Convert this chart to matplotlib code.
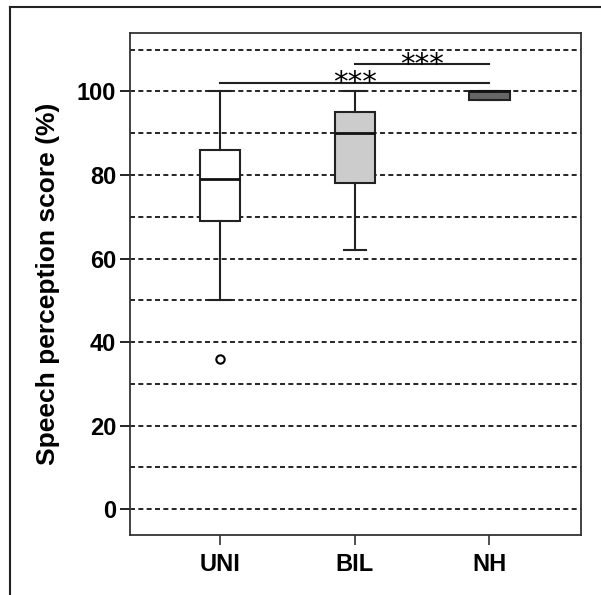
import matplotlib
matplotlib.use('Agg')
import matplotlib.pyplot as plt
from matplotlib.lines import Line2D

plt.rcParams['font.family'] = ['Liberation Sans', 'DejaVu Sans']

groups = ['UNI', 'BIL', 'NH']
# box summary stats
q1 = [69, 78, 98]
med = [79, 90, 100]
q3 = [86, 95, 100]
whislo = [50, 62, 98]
whishi = [100, 100, 100]
fliers = [[36], [], []]
box_colors = ['white', '#cccccc', '#666666']

# significance brackets: (from group, to group, height)
sig_pairs = [(1, 3, 102), (2, 3, 106.5)]
sig_labels = ['***', '***']

stats = []
for i in range(len(groups)):
    stats.append({'label': groups[i], 'q1': q1[i], 'med': med[i], 'q3': q3[i],
                  'whislo': whislo[i], 'whishi': whishi[i], 'fliers': fliers[i]})

fig = plt.figure(figsize=(6.01, 5.95), dpi=100)
ax = fig.add_axes([130 / 601, 60 / 595, 451 / 601, 502 / 595])

for y in range(0, 120, 10):
    ax.axhline(y, color='black', lw=1.2, ls=(0, (3, 2)), zorder=0)

bp = ax.bxp(stats, positions=[1, 2, 3], widths=0.3, patch_artist=True,
            showfliers=True,
            boxprops=dict(edgecolor='#222222', linewidth=1.5),
            medianprops=dict(color='#111111', linewidth=2),
            whiskerprops=dict(color='#222222', linewidth=1.5),
            capprops=dict(color='#222222', linewidth=1.5),
            capwidths=0.16,
            flierprops=dict(marker='o', markerfacecolor='white', markeredgecolor='black',
                            markersize=6, markeredgewidth=1.5))
for patch, c in zip(bp['boxes'], box_colors):
    patch.set_facecolor(c)
    patch.set_zorder(2)

for (a, b, h), lab in zip(sig_pairs, sig_labels):
    ax.plot([a, b], [h, h], color='#222222', lw=1.5)
    ax.text((a + b) / 2, h - 2.0, lab, ha='center', va='baseline', fontsize=21,
            family='DejaVu Sans')

ax.set_xlim(0.33, 3.68)
ax.set_ylim(-6.2, 114)
ax.set_yticks(range(0, 101, 20))
ax.set_xticks([1, 2, 3])
ax.set_xticklabels(groups, fontsize=17, fontweight='bold')
ax.tick_params(axis='y', labelsize=17, length=7, width=1.2, pad=3)
ax.tick_params(axis='x', length=7, width=1.2, pad=6, colors='#333333', labelcolor='black')
for lab in ax.get_yticklabels():
    lab.set_fontweight('bold')
ax.set_ylabel('Speech perception score (%)', fontsize=19, fontweight='bold', labelpad=12)
for s in ax.spines.values():
    s.set_color('#333333')
    s.set_linewidth(1.3)

# outer frame (left and top edges visible)
fig.add_artist(Line2D([10 / 601, 10 / 601], [0, 1 - 7 / 595], color='#222222', lw=1.5,
                      transform=fig.transFigure))
fig.add_artist(Line2D([10 / 601, 1], [1 - 7 / 595, 1 - 7 / 595], color='#222222', lw=1.5,
                      transform=fig.transFigure))

fig.savefig('out.png', dpi=100)
